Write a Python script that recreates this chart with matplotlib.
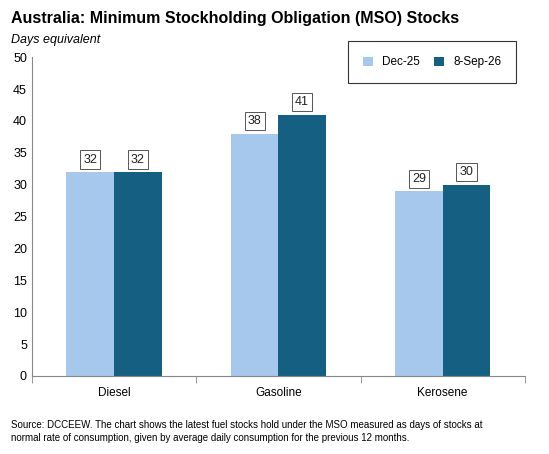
import matplotlib

matplotlib.use("Agg")
import matplotlib.pyplot as plt
import numpy as np

categories = ["Diesel", "Gasoline", "Kerosene"]
dec25 = [32, 38, 29]
sep26 = [32, 41, 30]
series_labels = ["Dec-25", "8-Sep-26"]

LIGHT = "#A6C8EC"
DARK = "#156082"

plt.rcParams["font.family"] = ["Liberation Sans", "DejaVu Sans"]

fig = plt.figure(figsize=(5.49, 4.54), dpi=100)
ax = fig.add_axes([0.058, 0.172, 0.898, 0.702])

x = np.arange(len(categories))
w = 0.29
b1 = ax.bar(x - w / 2, dec25, w, color=LIGHT, label=series_labels[0])
b2 = ax.bar(x + w / 2, sep26, w, color=DARK, label=series_labels[1])

for bars, vals in [(b1, dec25), (b2, sep26)]:
    for rect, v in zip(bars, vals):
        ax.text(rect.get_x() + rect.get_width() / 2, v + 1.0, f"{v}", ha="center", va="bottom",
                fontsize=9, color="#222222",
                bbox=dict(boxstyle="square,pad=0.25", facecolor="white", edgecolor="#555555", linewidth=0.7))

ax.set_xlim(-0.5, 2.5)
ax.set_ylim(0, 50)
ax.set_yticks(range(0, 51, 5))
ax.set_xticks(x)
ax.set_xticklabels(categories, fontsize=8.5)
ax.set_xticks([-0.5, 0.5, 1.5, 2.5], minor=True)
ax.tick_params(axis="x", which="major", length=0, pad=8)
ax.tick_params(axis="x", which="minor", length=5, color="#888888")
ax.tick_params(axis="y", labelsize=9, length=0)
for s in ["top", "right"]:
    ax.spines[s].set_visible(False)
ax.spines["left"].set_color("#888888")
ax.spines["bottom"].set_color("#888888")

leg = ax.legend(loc="upper right", bbox_to_anchor=(0.995, 1.07), ncol=2, fontsize=8.5,
                frameon=True, fancybox=False, edgecolor="black", borderpad=1.3,
                handlelength=0.8, handleheight=0.8, columnspacing=1.2)
leg.get_frame().set_linewidth(0.8)

fig.text(0.02, 0.96, "Australia: Minimum Stockholding Obligation (MSO) Stocks", fontsize=11.5,
         fontweight="bold", ha="left", va="center")
fig.text(0.02, 0.912, "Days equivalent", fontsize=9, style="italic", ha="left", va="center")
fig.text(0.02, 0.05, "Source: DCCEEW. The chart shows the latest fuel stocks hold under the MSO measured as days of stocks at\n"
         "normal rate of consumption, given by average daily consumption for the previous 12 months.",
         fontsize=7, ha="left", va="center", linespacing=1.4)

fig.savefig("out.png", dpi=100, facecolor="white")
